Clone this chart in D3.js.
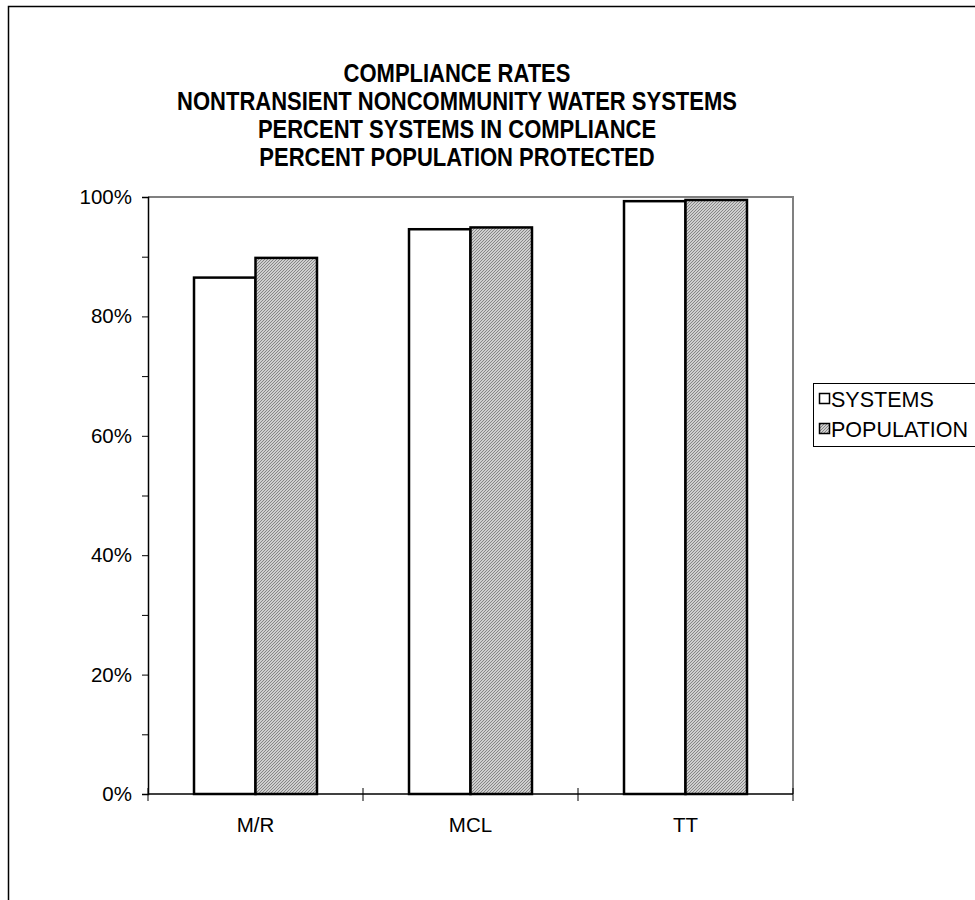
<!DOCTYPE html>
<html>
<head>
<meta charset="utf-8">
<script src="https://cdn.jsdelivr.net/npm/d3@7"></script>
<style>
  html, body { margin: 0; padding: 0; background: #fff; }
  svg { display: block; font-family: "Liberation Sans", Arial, sans-serif; }
</style>
</head>
<body>
<svg id="chart" width="975" height="900"></svg>
<script>
// Compliance rates for nontransient noncommunity water systems
const categories = ["M/R", "MCL", "TT"];
const seriesNames = ["SYSTEMS", "POPULATION"];
const systemsPct = [86.5, 94.6, 99.3];
const populationPct = [89.8, 94.9, 99.5];
const yTickValues = [0, 20, 40, 60, 80, 100];
const yMinorTickValues = [0, 10, 20, 30, 40, 50, 60, 70, 80, 90, 100];
const titleLines = [
  "COMPLIANCE RATES",
  "NONTRANSIENT NONCOMMUNITY WATER SYSTEMS",
  "PERCENT SYSTEMS IN COMPLIANCE",
  "PERCENT POPULATION PROTECTED"
];

const rows = categories.map((c, i) => ({ category: c, SYSTEMS: systemsPct[i], POPULATION: populationPct[i] }));

const svg = d3.select("#chart");
const plot = { left: 148, right: 793, top: 197, bottom: 794 };

// hatched fill for the population series
const defs = svg.append("defs");
const pat = defs.append("pattern")
  .attr("id", "hatch")
  .attr("patternUnits", "userSpaceOnUse")
  .attr("width", 3).attr("height", 3);
pat.append("rect").attr("width", 3).attr("height", 3).attr("fill", "#cfcfcf");
pat.append("path").attr("d", "M-1,1 L1,-1 M0,3 L3,0 M2,4 L4,2")
  .attr("stroke", "#858585").attr("stroke-width", 1);

// outer chart frame
svg.append("rect")
  .attr("x", 8.5).attr("y", 6.5).attr("width", 1000).attr("height", 1000)
  .attr("fill", "none").attr("stroke", "#000").attr("stroke-width", 1.5);

// title, set slightly narrow
const titleG = svg.append("g");
titleLines.forEach((line, i) => {
  titleG.append("g")
    .attr("transform", `translate(457,${82 + i * 28}) scale(0.88,1)`)
    .append("text")
    .attr("text-anchor", "middle")
    .attr("font-size", 25).attr("font-weight", "bold")
    .text(line);
});

const x0 = d3.scaleBand().domain(categories).range([plot.left, plot.right]).paddingInner(0.428).paddingOuter(0.214);
const x1 = d3.scaleBand().domain(seriesNames).range([0, x0.bandwidth()]);
const y = d3.scaleLinear().domain([0, 100]).range([plot.bottom, plot.top]);

// plot area frame: grey top and right edges
svg.append("path")
  .attr("d", `M${plot.left},${plot.top}H${plot.right}V${plot.bottom}`)
  .attr("fill", "none").attr("stroke", "#808080").attr("stroke-width", 2);

// bars
const fills = { SYSTEMS: "#fff", POPULATION: "url(#hatch)" };
svg.append("g").selectAll("g").data(rows).join("g")
  .attr("transform", d => `translate(${x0(d.category)},0)`)
  .selectAll("rect")
  .data(d => seriesNames.map(s => ({ s, v: d[s] })))
  .join("rect")
  .attr("x", d => x1(d.s))
  .attr("y", d => y(d.v))
  .attr("width", x1.bandwidth())
  .attr("height", d => y(0) - y(d.v))
  .attr("fill", d => fills[d.s])
  .attr("stroke", "#000").attr("stroke-width", 2.5);

// y axis
const yAxis = svg.append("g")
  .attr("transform", `translate(${plot.left},0)`)
  .call(d3.axisLeft(y).tickValues(yMinorTickValues).tickSize(6).tickFormat(""));
yAxis.selectAll("line").attr("stroke", "#000");
yAxis.select(".domain").attr("stroke", "#000").attr("stroke-width", 1.5);
const yLabels = svg.append("g")
  .attr("transform", `translate(${plot.left},0)`)
  .call(d3.axisLeft(y).tickValues(yTickValues).tickSize(0).tickPadding(16).tickFormat(d => d + "%"));
yLabels.select(".domain").remove();
yLabels.selectAll("text")
  .attr("font-size", 20.5).attr("font-family", "Liberation Sans, Arial, sans-serif").attr("fill", "#000");

// x axis baseline with category dividers crossing it
svg.append("line")
  .attr("x1", plot.left).attr("x2", plot.right)
  .attr("y1", plot.bottom).attr("y2", plot.bottom)
  .attr("stroke", "#000").attr("stroke-width", 1.5);
const dividers = categories.map(c => x0(c) - x0.step() * x0.paddingInner() / 2)
  .concat([plot.right]);
svg.append("g").selectAll("line").data(dividers).join("line")
  .attr("x1", d => d).attr("x2", d => d)
  .attr("y1", plot.bottom - 6).attr("y2", plot.bottom + 7)
  .attr("stroke", "#000").attr("stroke-width", 1);
svg.append("g").selectAll("text").data(categories).join("text")
  .attr("x", d => x0(d) + x0.bandwidth() / 2)
  .attr("y", 832)
  .attr("text-anchor", "middle")
  .attr("font-size", 20.5)
  .text(d => d);

// legend
const legend = svg.append("g");
legend.append("rect")
  .attr("x", 813.5).attr("y", 383.5).attr("width", 200).attr("height", 63)
  .attr("fill", "#fff").attr("stroke", "#000").attr("stroke-width", 1);
const items = legend.selectAll("g.item").data(seriesNames).join("g")
  .attr("class", "item")
  .attr("transform", (d, i) => `translate(819,${399 + i * 30})`);
items.append("rect")
  .attr("x", 0.5).attr("y", -5.5).attr("width", 10).attr("height", 10)
  .attr("fill", d => fills[d]).attr("stroke", "#000").attr("stroke-width", 1.5);
items.append("text")
  .attr("x", 12).attr("y", 7.5)
  .attr("font-size", 21.5)
  .text(d => d);
</script>
</body>
</html>
